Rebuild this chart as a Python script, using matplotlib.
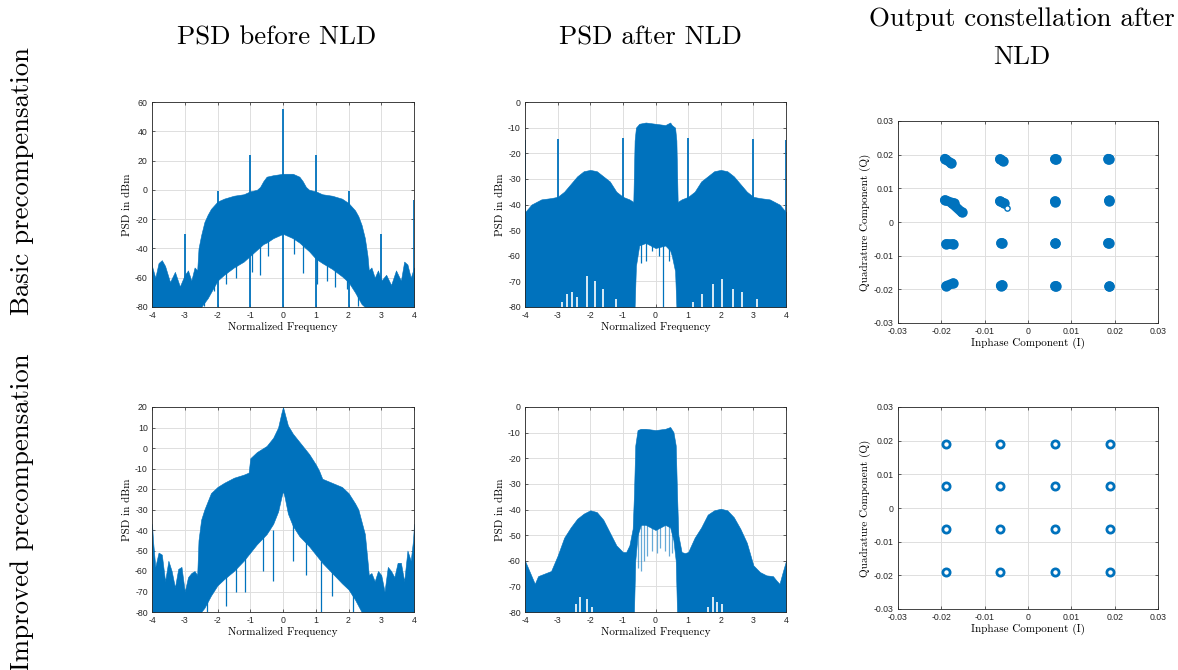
"""
Precompensation comparison: PSD before/after NLD and output constellation.
"""

import numpy as np
import matplotlib
matplotlib.use("Agg")
import matplotlib.pyplot as plt

plt.rcParams["axes.unicode_minus"] = False

BLUE = "#0072BD"
SERIF = "cmr10"
TICKFONT = "Liberation Sans"

# ── PSD before NLD, basic precompensation ────────────────────────────────────
p1_freq = [-4.0, -3.9, -3.8, -3.7, -3.6, -3.45, -3.3, -3.15, -3.0, -2.9, -2.8, -2.7,
           -2.62, -2.58, -2.5, -2.4, -2.3, -2.2, -2.0, -1.8, -1.5, -1.2, -1.0, -0.8,
           -0.7, -0.6, -0.5, -0.3, 0.0, 0.3, 0.5, 0.6, 0.7, 0.8, 1.0, 1.2, 1.5, 1.8,
           2.0, 2.2, 2.3, 2.4, 2.5, 2.58, 2.62, 2.7, 2.8, 2.9, 3.0, 3.15, 3.3, 3.45,
           3.6, 3.7, 3.8, 3.9, 4.0]
p1_upper = [-52, -60, -50, -48, -52, -63, -56, -66, -58, -55, -62, -53,
            -55, -40, -31, -22, -17, -13, -8, -6, -4, -3, -1, 0,
            2, 6, 9, 10, 11, 11, 9, 6, 2, 0, -1, -3, -4, -6,
            -9, -14, -18, -24, -33, -45, -55, -53, -60, -55, -62, -58, -65, -55,
            -62, -49, -51, -60, -53]
p1_lower = [-80, -80, -80, -80, -80, -80, -80, -80, -80, -80, -80, -80,
            -80, -80, -80, -77, -74, -70, -62, -58, -53, -49, -45, -41,
            -39, -37, -36, -33, -30, -33, -36, -38, -40, -42, -47, -50, -54, -59,
            -63, -70, -74, -78, -80, -80, -80, -80, -80, -80, -80, -80, -80, -80,
            -80, -80, -80, -80, -80]
p1_spike_f = [-4, -3, -2, -1, 0, 1, 2, 3, 4]
p1_spike_v = [-7, -30, -1, 24, 55, 24, -1, -30, -7]
p1_dip_f = [-2.42, -2.1, -1.73, -1.45, -0.96, -0.71, -0.45, 0.35, 0.62, 1.03, 1.33, 1.6, 1.94, 2.3]
p1_dip_v = [-79, -69, -64, -60, -56, -58, -45, -44, -57, -64, -62, -66, -68, -79]

# ── PSD after NLD, basic precompensation ─────────────────────────────────────
p2_freq = [-4.0, -3.8, -3.5, -3.2, -3.0, -2.8, -2.6, -2.4, -2.2, -2.0, -1.8, -1.6,
           -1.4, -1.2, -1.0, -0.8, -0.68, -0.64, -0.6, -0.5, -0.3, 0.0, 0.3, 0.45,
           0.5, 0.6, 0.64, 0.68, 0.8, 1.0, 1.2, 1.4, 1.6, 1.8, 2.0, 2.2, 2.4, 2.6,
           2.8, 3.0, 3.2, 3.5, 3.8, 4.0]
p2_upper = [-43, -40, -38, -37.5, -37, -35, -32, -29, -27, -26.5, -27, -29,
            -31, -35, -37, -38, -39, -15, -10, -8.5, -8, -8.5, -9, -8,
            -9, -10, -15, -39, -38, -37, -35, -31, -29, -27, -26.5, -27, -29, -32,
            -35, -37, -37.5, -38, -40, -43]
p2_lower = [-80, -80, -80, -80, -80, -80, -80, -80, -80, -80, -80, -80,
            -80, -80, -80, -80, -80, -80, -64, -56, -55, -57, -56, -58,
            -60, -66, -80, -80, -80, -80, -80, -80, -80, -80, -80, -80, -80, -80,
            -80, -80, -80, -80, -80, -80]
p2_spike_f = [-4, -3, -1, 1, 3, 4]
p2_spike_v = [-15, -14.5, -14, -14, -14.5, -15]
p2_dip_f = [-0.45, -0.3, -0.1, 0.1, 0.24, 0.4]
p2_dip_v = [-63, -62, -58, -60, -80, -62]
p2_gap_f = [-2.88, -2.7, -2.55, -2.4, -2.1, -1.85, -1.6, -1.2,
            1.16, 1.41, 1.77, 2.03, 2.38, 2.64, 3.1]
p2_gap_v = [-78, -75, -74, -76, -68, -70, -73, -77,
            -78, -75, -71, -69, -73, -74, -77]

# ── PSD before NLD, improved precompensation ─────────────────────────────────
p4_freq = [-4.0, -3.97, -3.9, -3.8, -3.7, -3.6, -3.5, -3.4, -3.3, -3.2, -3.1, -3.0,
           -2.9, -2.8, -2.7, -2.62, -2.58, -2.5, -2.4, -2.3, -2.2, -2.0, -1.8, -1.5,
           -1.2, -1.05, -1.0, -0.8, -0.5, -0.3, -0.15, -0.05, 0.0, 0.05, 0.15, 0.3,
           0.5, 0.8, 1.0, 1.1, 1.2, 1.5, 1.8, 2.0, 2.2, 2.3, 2.4, 2.5, 2.58, 2.62,
           2.7, 2.8, 2.9, 3.0, 3.1, 3.2, 3.3, 3.4, 3.5, 3.6, 3.7, 3.8, 3.9, 3.97, 4.0]
p4_upper = [-37, -45, -58, -51, -52, -65, -55, -60, -68, -59, -58, -70,
            -63, -61, -60, -62, -45, -35, -30, -26, -22, -19, -17, -14.5,
            -13, -12, -5, -2, 1, 5, 10, 17, 20, 17, 11, 7,
            3, -3, -8, -11, -15, -17, -19, -22, -27, -30, -36, -42, -55, -62,
            -61, -65, -60, -62, -70, -58, -60, -63, -56, -56, -65, -50, -55, -45, -37]
p4_lower = [-80, -80, -80, -80, -80, -80, -80, -80, -80, -80, -80, -80,
            -80, -80, -80, -80, -80, -80, -78, -75, -72, -67, -64, -60,
            -55, -52, -51, -47, -42, -37, -31, -24, -21, -24, -32, -38,
            -43, -48, -52, -54, -56, -61, -66, -69, -74, -77, -80, -80, -80, -80,
            -80, -80, -80, -80, -80, -80, -80, -80, -80, -80, -80, -80, -80, -80, -80]
p4_dip_f = [-2.32, -1.75, -1.45, -1.17, -0.6, -0.3, 0.3, 0.7, 1.16, 1.5, 2.15]
p4_dip_v = [-80, -77, -70, -70, -60, -65, -55, -62, -80, -72, -80]

# ── PSD after NLD, improved precompensation ──────────────────────────────────
p5_freq = [-4.0, -3.9, -3.8, -3.7, -3.6, -3.4, -3.2, -3.0, -2.8, -2.6, -2.4, -2.2,
           -2.0, -1.8, -1.6, -1.4, -1.2, -1.0, -0.9, -0.8, -0.7, -0.66, -0.62, -0.55,
           -0.45, -0.3, 0.0, 0.3, 0.45, 0.55, 0.62, 0.66, 0.7, 0.8, 0.9, 1.0,
           1.2, 1.4, 1.6, 1.8, 2.0, 2.2, 2.4, 2.6, 2.8, 3.0, 3.2, 3.4, 3.6, 3.7,
           3.8, 3.9, 4.0]
p5_upper = [-60, -63, -66, -69, -66, -65, -64, -58, -51, -47, -43.6, -41.6,
            -40.3, -41, -44, -49, -54, -56.6, -56.6, -54, -47.5, -34, -15, -9,
            -8.5, -8.5, -9, -8.5, -7.8, -9.8, -15, -34, -50, -56.6, -57, -56.6,
            -51, -47, -42, -40.3, -39.7, -40.3, -43, -47.5, -53, -61.8, -64.4, -65.7, -66, -67.6,
            -69, -64.4, -60]
p5_lower = [-80, -80, -80, -80, -80, -80, -80, -80, -80, -80, -80, -80,
            -80, -80, -80, -80, -80, -80, -80, -80, -80, -80, -60, -50,
            -46, -46, -48, -46, -47, -52, -60, -80, -80, -80, -80, -80,
            -80, -80, -80, -80, -80, -80, -80, -80, -80, -80, -80, -80, -80, -80,
            -80, -80, -80]
p5_dip_f = [-0.55, -0.45, -0.35, -0.25, -0.1, 0.05, 0.15, 0.3, 0.4, 0.5]
p5_dip_v = [-63, -64, -60, -58, -56, -57, -55, -56, -58, -57]
p5_gap_f = [-2.45, -2.3, -2.1, -1.95, 1.6, 1.75, 1.9, 2.05]
p5_gap_v = [-77, -74, -75, -78, -78, -74, -76, -77]

# ── Constellations ───────────────────────────────────────────────────────────
# basic: each cluster smeared from (x0, y0) to (x1, y1)
basic_x0 = [-0.0192, -0.0065, 0.0062, 0.0185,
            -0.0192, -0.0175, -0.0065, 0.0062, 0.0187,
            -0.0189, -0.0063, 0.0062, 0.0185,
            -0.0189, -0.0063, 0.0062, 0.0187]
basic_y0 = [0.0188, 0.0187, 0.0187, 0.0188,
            0.0065, 0.0055, 0.0062, 0.0062, 0.0064,
            -0.0064, -0.0063, -0.0063, -0.0063,
            -0.0190, -0.0189, -0.0189, -0.0189]
basic_x1 = [-0.0177, -0.0058, 0.0064, 0.0188,
            -0.0170, -0.0153, -0.0055, 0.0063, 0.0188,
            -0.0173, -0.0060, 0.0063, 0.0187,
            -0.0173, -0.0060, 0.0064, 0.0188]
basic_y1 = [0.0174, 0.0181, 0.0186, 0.0187,
            0.0055, 0.0029, 0.0055, 0.0060, 0.0062,
            -0.0064, -0.0063, -0.0063, -0.0063,
            -0.0182, -0.0187, -0.0189, -0.0189]
basic_outlier = (-0.0048, 0.0043)

improved_i = [-0.0190, -0.0064, 0.0063, 0.0190]
improved_q = [0.0190, 0.0064, -0.0063, -0.0190]


def ax_rect(fig, left, top, right, bottom):
    W, H = 1178.0, 670.0
    return fig.add_axes([left / W, 1 - bottom / H, (right - left) / W, (bottom - top) / H])


def style_axes(ax):
    ax.grid(True, color="#dedede", lw=0.7)
    ax.set_axisbelow(True)
    ax.tick_params(direction="in", length=2.5, width=0.5, top=True, right=True,
                   labelsize=6.3, colors="#262626", pad=3)
    for lab in ax.get_xticklabels() + ax.get_yticklabels():
        lab.set_family(TICKFONT)
    for sp in ax.spines.values():
        sp.set_linewidth(0.6)
        sp.set_color("#262626")


def psd_panel(ax, freq, upper, lower, ymax, ystep, spikes=None, dips=None,
              gaps=None, dip_alpha=1.0):
    ax.fill_between(freq, lower, upper, color=BLUE, lw=0.4, edgecolor=BLUE)
    if gaps is not None:
        ax.vlines(gaps[0], -80, gaps[1], color="white", lw=1.2)
    if dips is not None:
        ax.vlines(dips[0], dips[1], np.array(dips[1]) + 25, color=BLUE, lw=0.9, alpha=dip_alpha)
    if spikes is not None:
        ax.vlines(spikes[0], -80, spikes[1], color=BLUE, lw=1.3)
    ax.set_xlim(-4, 4)
    ax.set_ylim(-80, ymax)
    ax.set_xticks(range(-4, 5))
    ax.set_xticklabels([str(v) for v in range(-4, 5)])
    yt = list(range(-80, ymax + 1, ystep))
    ax.set_yticks(yt)
    ax.set_yticklabels([str(v) for v in yt])
    ax.set_xlabel("Normalized Frequency", family=SERIF, fontsize=8, labelpad=1)
    ax.set_ylabel("PSD in dBm", family=SERIF, fontsize=8, labelpad=2)
    style_axes(ax)


def const_axes(ax):
    t = [-0.03, -0.02, -0.01, 0, 0.01, 0.02, 0.03]
    lbl = ["-0.03", "-0.02", "-0.01", "0", "0.01", "0.02", "0.03"]
    ax.set_xlim(-0.03, 0.03)
    ax.set_ylim(-0.03, 0.03)
    ax.set_xticks(t)
    ax.set_xticklabels(lbl)
    ax.set_yticks(t)
    ax.set_yticklabels(lbl)
    ax.set_xlabel("Inphase Component (I)", family=SERIF, fontsize=8, labelpad=1)
    ax.set_ylabel("Quadrature Component (Q)", family=SERIF, fontsize=8, labelpad=2)
    style_axes(ax)


fig = plt.figure(figsize=(11.78, 6.70), dpi=100)

ax1 = ax_rect(fig, 152, 102, 414, 307)
psd_panel(ax1, p1_freq, p1_upper, p1_lower, 60, 20,
          spikes=(p1_spike_f, p1_spike_v), dips=(p1_dip_f, p1_dip_v))

ax2 = ax_rect(fig, 525, 102, 786, 307)
psd_panel(ax2, p2_freq, p2_upper, p2_lower, 0, 10,
          spikes=(p2_spike_f, p2_spike_v), dips=(p2_dip_f, p2_dip_v),
          gaps=(p2_gap_f, p2_gap_v))

ax4 = ax_rect(fig, 152, 407, 414, 612)
psd_panel(ax4, p4_freq, p4_upper, p4_lower, 20, 10, dips=(p4_dip_f, p4_dip_v))

ax5 = ax_rect(fig, 525, 407, 786, 612)
psd_panel(ax5, p5_freq, p5_upper, p5_lower, 0, 10, dips=(p5_dip_f, p5_dip_v),
          gaps=(p5_gap_f, p5_gap_v), dip_alpha=0.6)

ax3 = ax_rect(fig, 898, 121, 1158, 323)
for x0, y0, x1, y1 in zip(basic_x0, basic_y0, basic_x1, basic_y1):
    ax3.plot([x0, x1], [y0, y1], "-o", color=BLUE, lw=7, ms=7.5, mew=0,
             solid_capstyle="round", zorder=3)
ax3.plot(*basic_outlier, "o", mfc="white", mec=BLUE, ms=3.8, mew=1, zorder=4)
const_axes(ax3)

ax6 = ax_rect(fig, 898, 407, 1158, 609)
gi, gq = np.meshgrid(improved_i, improved_q)
ax6.plot(gi.ravel(), gq.ravel(), "o", mfc="white", mec=BLUE, ms=5.2, mew=2, ls="none", zorder=3)
const_axes(ax6)

# column titles and row labels
TITLE_SIZE = 19.3
fig.text(277 / 1178, 1 - 38 / 670, "PSD before NLD", family=SERIF, fontsize=TITLE_SIZE,
         ha="center", va="center")
fig.text(650 / 1178, 1 - 38 / 670, "PSD after NLD", family=SERIF, fontsize=TITLE_SIZE,
         ha="center", va="center")
fig.text(1022 / 1178, 1 - 38 / 670, "Output constellation after\nNLD", family=SERIF,
         fontsize=TITLE_SIZE, ha="center", va="center", linespacing=1.75)
fig.text(22 / 1178, 1 - 181 / 670, "Basic precompensation", family=SERIF, fontsize=TITLE_SIZE,
         ha="center", va="center", rotation=90)
fig.text(22 / 1178, 1 - 512 / 670, "Improved precompensation", family=SERIF, fontsize=TITLE_SIZE,
         ha="center", va="center", rotation=90)

fig.savefig("out.png", dpi=100)
